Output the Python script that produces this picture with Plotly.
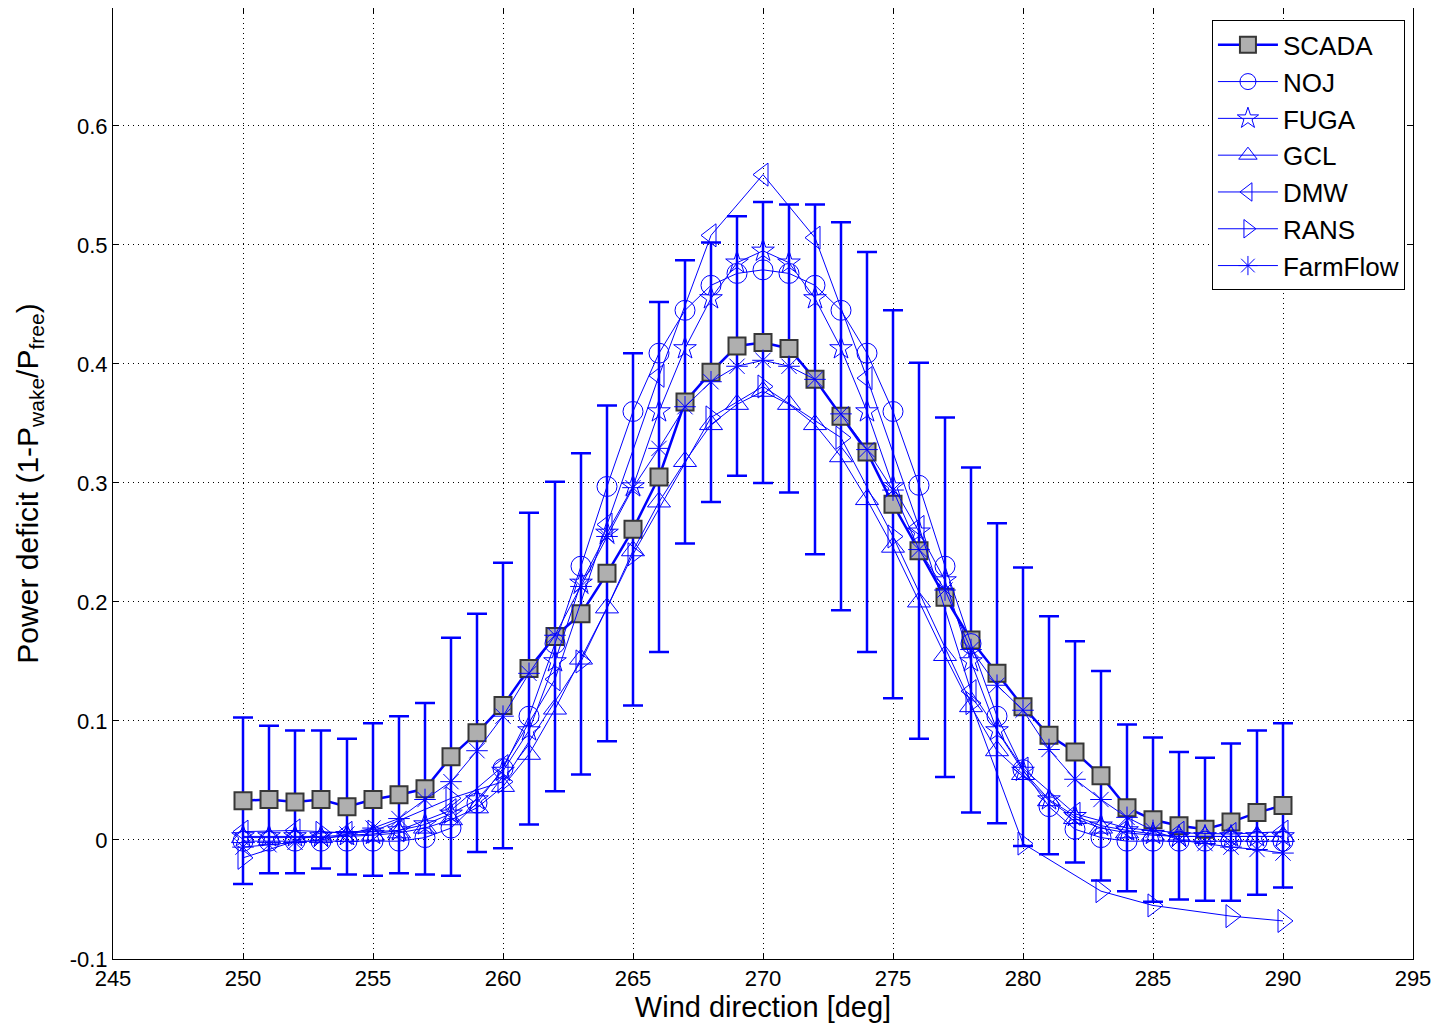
import plotly.graph_objects as go

# wind direction bins [deg]
direction = list(range(250, 291))

# SCADA mean power deficit and standard deviation (error bars)
scada_mean = [0.033, 0.034, 0.032, 0.034, 0.028, 0.034, 0.038, 0.043, 0.070, 0.090,
              0.113, 0.144, 0.171, 0.190, 0.224, 0.261, 0.305, 0.368, 0.393, 0.415,
              0.418, 0.413, 0.387, 0.356, 0.326, 0.282, 0.243, 0.204, 0.168, 0.140,
              0.112, 0.088, 0.074, 0.054, 0.027, 0.017, 0.012, 0.009, 0.015, 0.023,
              0.029]
scada_std = [0.070, 0.062, 0.060, 0.058, 0.057, 0.064, 0.066, 0.072, 0.100, 0.100,
             0.120, 0.131, 0.130, 0.135, 0.141, 0.148, 0.147, 0.119, 0.109, 0.109,
             0.118, 0.121, 0.147, 0.163, 0.168, 0.163, 0.158, 0.151, 0.145, 0.126,
             0.117, 0.100, 0.093, 0.088, 0.070, 0.069, 0.062, 0.060, 0.066, 0.069,
             0.069]

# model results
noj = [-0.001, -0.001, -0.001, -0.001, -0.001, -0.001, -0.001, 0.002, 0.010, 0.031,
       0.060, 0.104, 0.165, 0.230, 0.297, 0.360, 0.409, 0.445, 0.466, 0.476,
       0.479, 0.476, 0.466, 0.445, 0.409, 0.360, 0.298, 0.230, 0.165, 0.104,
       0.059, 0.028, 0.009, 0.002, -0.001, -0.001, -0.001, -0.001, -0.001, -0.001,
       -0.001]
fuga = [0.003, 0.003, 0.003, 0.003, 0.004, 0.005, 0.008, 0.013, 0.022, 0.034,
        0.058, 0.092, 0.150, 0.216, 0.258, 0.297, 0.360, 0.413, 0.455, 0.485,
        0.495, 0.485, 0.455, 0.413, 0.360, 0.297, 0.259, 0.218, 0.150, 0.092,
        0.058, 0.034, 0.020, 0.012, 0.008, 0.005, 0.003, 0.003, 0.003, 0.003,
        0.003]
gcl = [0.002, 0.002, 0.002, 0.002, 0.003, 0.004, 0.006, 0.010, 0.017, 0.027,
       0.045, 0.072, 0.110, 0.152, 0.195, 0.243, 0.284, 0.318, 0.349, 0.366,
       0.377, 0.366, 0.349, 0.322, 0.286, 0.246, 0.200, 0.155, 0.112, 0.075,
       0.055, 0.033, 0.018, 0.010, 0.006, 0.004, 0.003, 0.003, 0.003, 0.003,
       0.003]
farmflow = [-0.006, -0.004, -0.002, 0.000, 0.005, 0.010, 0.018, 0.034, 0.049, 0.075,
            0.104, 0.140, 0.172, 0.213, 0.255, 0.296, 0.329, 0.364, 0.385, 0.398,
            0.403, 0.398, 0.387, 0.358, 0.328, 0.294, 0.244, 0.210, 0.160, 0.130,
            0.109, 0.076, 0.051, 0.034, 0.019, 0.008, 0.000, -0.003, -0.006, -0.008,
            -0.011]

dmw_dir = list(range(250, 291, 2))
dmw = [0.007, 0.008, 0.006, 0.008, 0.025, 0.062, 0.135, 0.265, 0.390, 0.508,
       0.559, 0.506, 0.388, 0.263, 0.125, 0.060, 0.022, 0.010, 0.006, 0.005,
       0.007]

rans_dir = [250, 253, 255, 258, 260, 263, 265, 268, 270, 273, 275, 278, 280, 283, 285, 288, 290]
rans = [-0.015, 0.006, 0.007, 0.035, 0.049, 0.150, 0.240, 0.355, 0.381, 0.338,
        0.255, 0.115, -0.003, -0.043, -0.055, -0.064, -0.068]

y_ticks = [-0.1, 0, 0.1, 0.2, 0.3, 0.4, 0.5, 0.6]
y_ticktext = ['-0.1', '0', '0.1', '0.2', '0.3', '0.4', '0.5', '0.6']
x_ticks = list(range(245, 296, 5))

BLUE = 'rgb(0,0,255)'
FONT = 'Arial, Liberation Sans, sans-serif'

fig = go.Figure()

fig.add_trace(go.Scatter(
    x=direction, y=scada_mean, name='SCADA', mode='lines+markers',
    line=dict(color=BLUE, width=2.5),
    marker=dict(symbol='square', size=17, color='rgb(175,175,175)',
                line=dict(color='rgb(55,55,55)', width=2)),
    error_y=dict(type='data', array=scada_std, visible=True,
                 color=BLUE, thickness=2.5, width=10),
))

models = [
    ('NOJ', direction, noj, 'circle-open', 20),
    ('FUGA', direction, fuga, 'star-open', 17),
    ('GCL', direction, gcl, 'triangle-up-open', 20),
    ('DMW', dmw_dir, dmw, 'triangle-left-open', 20),
    ('RANS', rans_dir, rans, 'triangle-right-open', 20),
    ('FarmFlow', direction, farmflow, 'asterisk-open', 18),
]
for name, xs, ys, sym, size in models:
    fig.add_trace(go.Scatter(
        x=xs, y=ys, name=name, mode='lines+markers',
        line=dict(color=BLUE, width=1),
        marker=dict(symbol=sym, size=size, color=BLUE, line=dict(color=BLUE, width=1)),
    ))

axis_style = dict(
    showline=True, mirror='ticks', linecolor='black', linewidth=1,
    ticks='inside', ticklen=6, tickcolor='black',
    showgrid=True, gridcolor='black', griddash='1px,4px', gridwidth=1,
    zeroline=False, automargin=False,
    tickfont=dict(family=FONT, size=22, color='black'),
)

fig.update_xaxes(range=[245, 295], tickvals=x_ticks,
                 title=dict(text='Wind direction [deg]', standoff=6,
                            font=dict(family=FONT, size=29, color='black')),
                 **axis_style)
fig.update_yaxes(range=[-0.1, 0.699], tickvals=y_ticks, ticktext=y_ticktext,
                 title=dict(text='Power deficit (1-P<sub>wake</sub>/P<sub>free</sub>)', standoff=22,
                            font=dict(family=FONT, size=30, color='black')),
                 **axis_style)

# the page body has an 8px margin, so the figure is sized and offset to put
# the axes where the original ones are
fig.update_layout(
    width=1433, height=1023,
    margin=dict(l=105, r=28, t=0, b=72),
    plot_bgcolor='white', paper_bgcolor='white',
    font=dict(family=FONT, color='black'),
    legend=dict(x=0.9938, y=0.987, xanchor='right', yanchor='top',
                bgcolor='white', bordercolor='black', borderwidth=1,
                font=dict(family=FONT, size=26, color='black'),
                itemwidth=60, tracegroupgap=0),
)

fig.write_html('out.html')
